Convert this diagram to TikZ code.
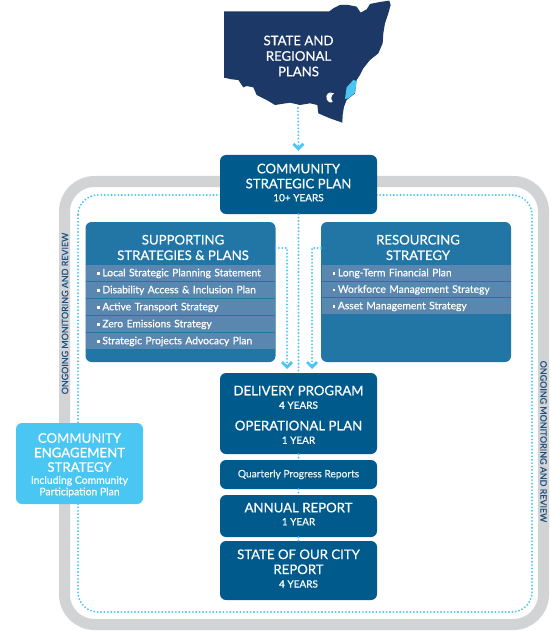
\documentclass[tikz,border=0pt]{standalone}
\usepackage{fontspec}
\setmainfont{Lato}[BoldFont=Lato, BoldFeatures={FakeBold=0.5}]
\usepackage{tikz}
\usetikzlibrary{arrows.meta}

\definecolor{mapnavy}{HTML}{1B3866}
\definecolor{planblue}{HTML}{005A8C}
\definecolor{panelblue}{HTML}{2176A6}
\definecolor{rowblue}{HTML}{5A87B0}
\definecolor{skyblue}{HTML}{4AC6F2}
\definecolor{bandgrey}{HTML}{D1D3D4}
\definecolor{bandtext}{HTML}{1F4E7F}

\newcommand{\rowmark}{\rule[1.5pt]{2.6pt}{2.6pt}\hspace{2.6pt}}
\newcommand{\yearsize}{\fontsize{10}{12}\selectfont}

\begin{document}
\begin{tikzpicture}[x=1pt, y=-1pt,
        plan/.style={fill=planblue, text=white, rounded corners=6pt, align=center, inner sep=0pt, minimum width=157pt, font=\fontsize{13.2}{15}\selectfont\bfseries},
        panel/.style={fill=panelblue, rounded corners=6pt, minimum width=190pt, minimum height=140pt, inner sep=0pt},
        paneltitle/.style={text=white, align=center, inner sep=0pt, font=\fontsize{13.2}{15.5}\selectfont\bfseries},
        row/.style={fill=rowblue, text=white, anchor=west, inner sep=0pt, inner xsep=11pt, text width=167pt, minimum height=15.5pt, align=left, text height=8.5pt, text depth=2pt, font=\fontsize{10.3}{12}\selectfont\bfseries},
        bandlabel/.style={text=bandtext, inner sep=0pt, font=\fontsize{8.9}{10}\selectfont\bfseries},
        dotline/.style={skyblue, line width=2.1pt, line cap=round, dash pattern=on 0pt off 3.4pt},
        dotarrow/.style={dotline, -{Straight Barb[length=5pt, width=10pt, line width=2.8pt]}, shorten >=4pt}]
    \useasboundingbox (0,0) rectangle (550,631);

    % loop behind everything
    \draw[bandgrey, line width=11pt, rounded corners=30pt] (64.5,181.5) rectangle (543.5,624.5);
    \draw[dotline, rounded corners=20pt] (78,195) rectangle (532,612);
    \node[bandlabel, rotate=90] (leftlabel) at (65,313.5) {ONGOING MONITORING AND REVIEW};
    \node[bandlabel, rotate=-90] (rightlabel) at (543.5,441.5) {ONGOING MONITORING AND REVIEW};

    % map of the state
    \begin{scope}[shift={(200,0)}, x=0.3333pt, y=-0.3333pt]
        \fill[mapnavy] (72,34) -- (388,34) -- (400,25) -- (420,15) -- (445,15) -- (470,20) -- (482,38)
            -- (500,28) -- (510,12) -- (540,6) -- (568,2) -- (572,15) -- (565,40) -- (555,70) -- (550,100)
            -- (548,130) -- (535,160) -- (510,180) -- (490,205) -- (480,225) -- (470,240) -- (465,280)
            -- (440,300) -- (432,320) -- (428,345) -- (427,368) -- (390,355) -- (355,340) -- (352,315)
            -- (330,310) -- (300,315) -- (270,308) -- (225,315) -- (200,300) -- (170,285) -- (160,262)
            -- (140,258) -- (130,262) -- (115,240) -- (95,238) -- (72,233) -- cycle;
        \fill[skyblue] (460,240) -- (470,243) -- (465,278) -- (445,295) -- (435,297) -- (440,262) -- cycle;
        \fill[white] (402,280) .. controls (385,272) and (376,285) .. (380,297) .. controls (384,308) and (395,310) .. (398,305) .. controls (392,298) and (392,288) .. (402,280) -- cycle;
    \end{scope}
    \node[text=white, align=center, inner sep=0pt, font=\fontsize{13.2}{15.5}\selectfont\bfseries] (state) at (298.5,56) {STATE AND\\REGIONAL\\PLANS};
    \coordinate (mapbottom) at (298,108);

    % main column
    \node[plan, minimum height=59pt] (community) at (298.5,184.5) {COMMUNITY\\STRATEGIC PLAN\\[-2pt]{\yearsize 10+ YEARS\rule[-4pt]{0pt}{4pt}}};
    \node[plan, minimum height=81pt] (delivery) at (298.5,413.5) {\rule{0pt}{12pt}DELIVERY PROGRAM\\[-1.5pt]{\yearsize 4 YEARS}\\[6.5pt]OPERATIONAL PLAN\\[-1.5pt]{\yearsize 1 YEAR}};
    \node[plan, minimum height=29pt, font=\fontsize{10.2}{12}\selectfont\bfseries, text=white!92!planblue] (quarterly) at (298.5,474.5) {Quarterly Progress Reports};
    \node[plan, minimum height=42pt] (annual) at (298.5,516) {ANNUAL REPORT\\[-2pt]{\yearsize 1 YEAR\rule[-4pt]{0pt}{4pt}}};
    \node[plan, minimum height=59pt] (report) at (298.5,570.5) {STATE OF OUR CITY\\REPORT\\[-1.5pt]{\yearsize 4 YEARS\rule[-4pt]{0pt}{4pt}}};

    % supporting strategies
    \node[panel] (supporting) at (180.5,292) {};
    \node[paneltitle] (supportingtitle) at (183,247.5) {SUPPORTING\\STRATEGIES \& PLANS};
    \node[row] (supportingone) at (86,273) {\rowmark Local Strategic Planning Statement};
    \node[row] (supportingtwo) at (86,290) {\rowmark Disability Access \& Inclusion Plan};
    \node[row] (supportingthree) at (86,307) {\rowmark Active Transport Strategy};
    \node[row] (supportingfour) at (86,324) {\rowmark Zero Emissions Strategy};
    \node[row] (supportingfive) at (86,341) {\rowmark Strategic Projects Advocacy Plan};

    % resourcing strategy
    \node[panel] (resourcing) at (416,292) {};
    \node[paneltitle] (resourcingtitle) at (418,247.5) {RESOURCING\\STRATEGY};
    \node[row] (resourcingone) at (321.5,273) {\rowmark Long-Term Financial Plan};
    \node[row] (resourcingtwo) at (321.5,289.5) {\rowmark Workforce Management Strategy};
    \node[row] (resourcingthree) at (321.5,306) {\rowmark Asset Management Strategy};

    % engagement
    \node[fill=skyblue, text=white, rounded corners=6pt, align=center, inner sep=0pt, minimum width=127pt, minimum height=81pt, font=\fontsize{13.2}{14.5}\selectfont\bfseries, text depth=0pt] (engagement) at (79.5,463.5)
        {\rule{0pt}{11pt}COMMUNITY\\ENGAGEMENT\\STRATEGY\\[-2.5pt]{\fontsize{10.4}{11.5}\selectfont including Community}\\[-3pt]{\fontsize{10.4}{11.5}\selectfont Participation Plan}};

    % connectors
    \coordinate (supportingout) at (275.5,248);
    \coordinate (resourcingout) at (321,248);
    \coordinate (deliveryleft) at (287,373);
    \coordinate (deliveryright) at (312,373);
    \draw[dotarrow] (mapbottom) -- (community.north);
    \draw[dotarrow] (supportingout) -| (deliveryleft);
    \draw[dotarrow] (resourcingout) -| (deliveryright);
    \draw[dotline] (community.south) -- (delivery.north);
    \draw[dotline] (delivery.south) -- (quarterly.north);
    \draw[dotline] (quarterly.south) -- (annual.north);
    \draw[dotline] (annual.south) -- (report.north);
\end{tikzpicture}
\end{document}
